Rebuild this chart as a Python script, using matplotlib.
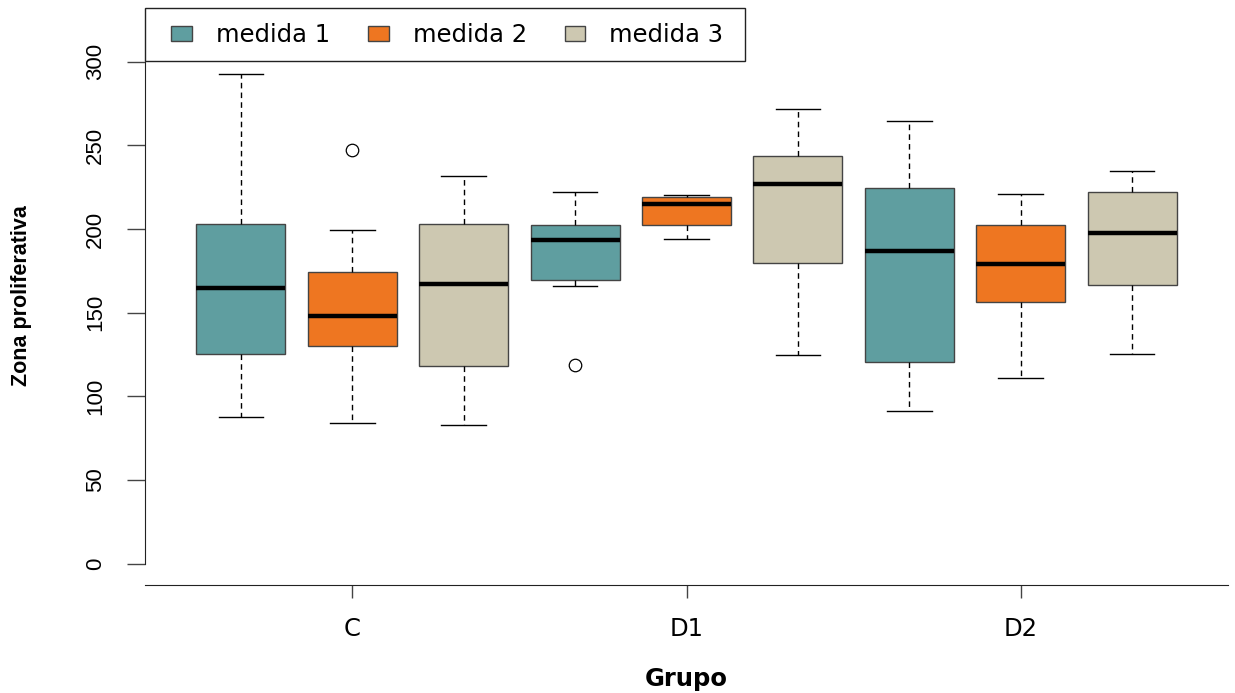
import matplotlib
matplotlib.use("Agg")
import matplotlib.pyplot as plt
from matplotlib.patches import Patch, Rectangle

plt.rcParams['font.family'] = ['Liberation Sans', 'DejaVu Sans']

# box summaries, ordered C(m1,m2,m3), D1(...), D2(...)
groups = ['C', 'D1', 'D2']
medidas = ['medida 1', 'medida 2', 'medida 3']
colores = ['#5F9EA0', '#EE7621', '#CDC8B1']

whislo = [87.8, 84.3, 82.7, 165.7, 194.0, 124.9, 91.4, 111.0, 125.5]
q1 = [125.1, 130.3, 118.3, 169.7, 202.4, 179.9, 120.3, 156.4, 166.7]
med = [164.5, 148.2, 167.1, 193.2, 215.1, 226.7, 186.9, 179.1, 197.8]
q3 = [203.2, 174.5, 202.8, 202.4, 219.1, 244.0, 224.7, 202.4, 222.3]
whishi = [292.8, 199.2, 231.5, 222.1, 220.1, 271.7, 264.6, 221.1, 234.7]
fliers = [[], [247.0], [], [118.7], [], [], [], [], []]

stats = []
for i in range(len(med)):
    stats.append({'whislo': whislo[i], 'q1': q1[i], 'med': med[i],
                  'q3': q3[i], 'whishi': whishi[i], 'fliers': fliers[i]})
posiciones = list(range(1, len(med) + 1))

W, H = 1235, 693
fig = plt.figure(figsize=(W / 100, H / 100), dpi=100)
# plot region in pixels: x 145..1228, y 7..585
ax = fig.add_axes([145 / W, 1 - 585 / H, (1228 - 145) / W, (585 - 7) / H])
ax_w, ax_h = 1228 - 145, 585 - 7

bp = ax.bxp(stats, positions=posiciones, widths=0.8, capwidths=0.4,
            patch_artist=True,
            boxprops=dict(edgecolor='#444444', linewidth=1),
            whiskerprops=dict(color='black', linewidth=1, linestyle=(0, (4, 3))),
            capprops=dict(color='black', linewidth=1),
            medianprops=dict(color='black', linewidth=3.2, solid_capstyle='butt'),
            flierprops=dict(marker='o', markerfacecolor='none', markeredgecolor='black',
                            markersize=9, markeredgewidth=0.9))
for i, caja in enumerate(bp['boxes']):
    caja.set_facecolor(colores[i % 3])

ax.set_xlim(0.14, 9.86)
ax.set_ylim(-12.8, 332.8)

ax.spines['top'].set_visible(False)
ax.spines['right'].set_visible(False)
ax.spines['left'].set_bounds(0, 300)
ax.spines['left'].set_color('#222222')
ax.spines['bottom'].set_color('#222222')

ax.set_yticks([0, 50, 100, 150, 200, 250, 300])
ax.set_yticklabels(['0', '50', '100', '150', '200', '250', '300'],
                   rotation=90, va='center', fontsize=16)
ax.tick_params(axis='y', length=13, width=1, pad=15, color='#444444')

ax.set_xticks([2, 5, 8])
ax.set_xticklabels(groups, fontsize=17.5, family='DejaVu Sans')
ax.tick_params(axis='x', length=9, width=1, pad=14, color='#444444')

ax.set_ylabel('Zona proliferativa', fontsize=15.5, fontweight='bold')
ax.yaxis.set_label_coords((32 - 145) / ax_w, 0.5)
ax.set_xlabel('Grupo', fontsize=17.5, fontweight='bold', family='DejaVu Sans')
ax.xaxis.set_label_coords(0.5, (585 - 667) / ax_h)

# legend box 145..745 x 8..61 px
marco = Rectangle((0, (585 - 61) / ax_h), 600 / ax_w, 53 / ax_h, transform=ax.transAxes,
                  facecolor='white', edgecolor='#222222', linewidth=1, clip_on=False, zorder=5)
ax.add_patch(marco)
handles = [Patch(facecolor=c, edgecolor='#444444', linewidth=1) for c in colores]
leg = ax.legend(handles, medidas, loc='center left',
                bbox_to_anchor=((171 - 145) / ax_w, (585 - 35) / ax_h),
                borderaxespad=0, borderpad=0, ncol=3, frameon=False,
                prop={'family': 'DejaVu Sans', 'size': 17.5},
                handlelength=0.86, handleheight=0.55, handletextpad=0.99,
                columnspacing=1.55)
leg.set_zorder(6)

fig.savefig('out.png', dpi=100)
